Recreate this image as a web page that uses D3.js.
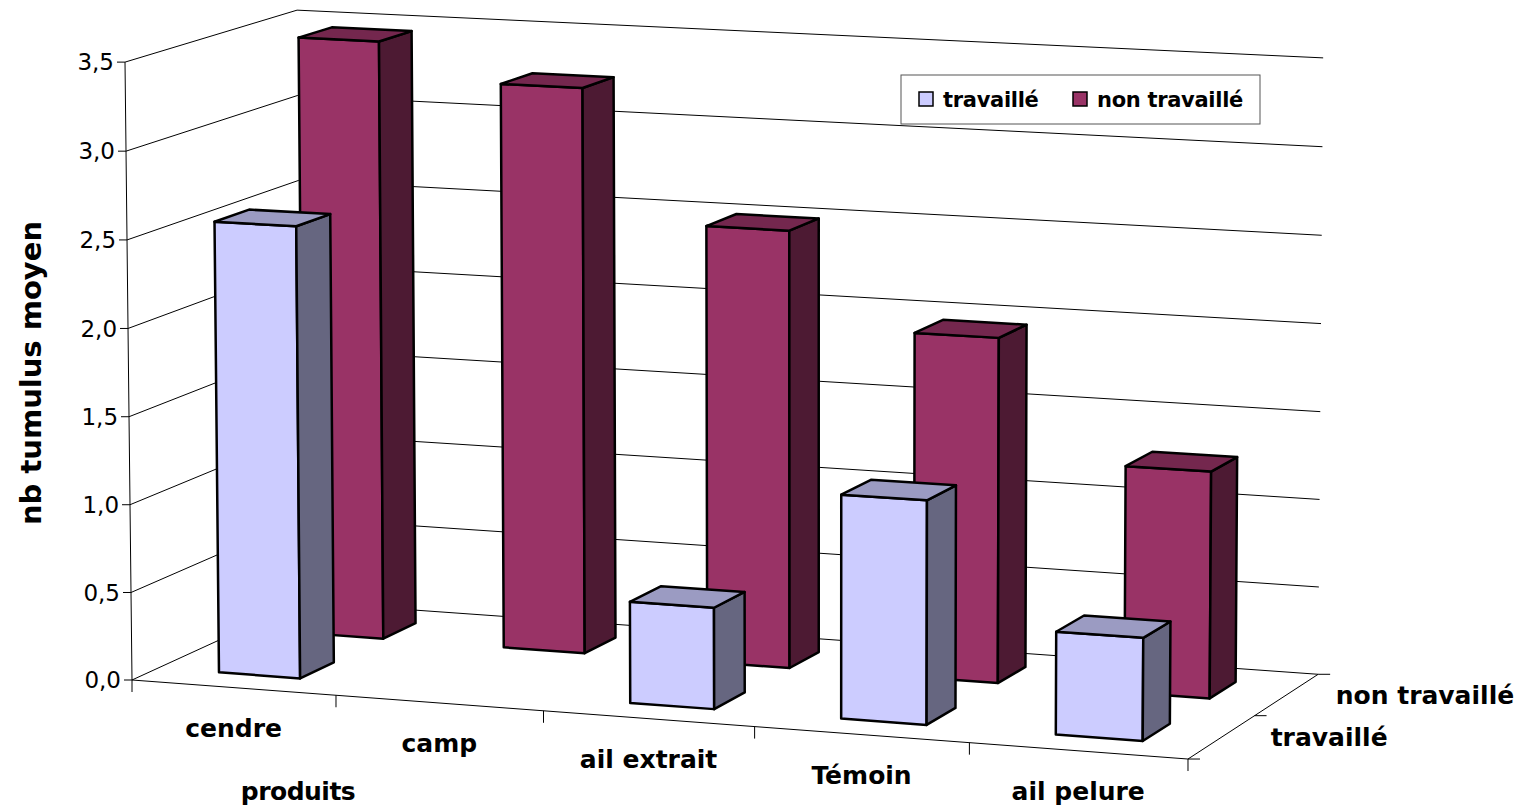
<!DOCTYPE html>
<html lang="fr">
<head>
<meta charset="UTF-8">
<title>nb tumulus moyen par produit</title>
<script src="https://d3js.org/d3.v7.min.js"></script>
<style>
  body { margin: 0; background: #fff; }
  svg { display: block; }
  .grid { stroke: #000; stroke-width: 1; fill: none; }
  .lab { font-family: "DejaVu Sans", sans-serif; fill: #000; }
  .bold { font-weight: bold; }
</style>
</head>
<body>
<div id="chart"></div>
<script>
const categories = ["cendre", "camp", "ail extrait", "Témoin", "ail pelure"];
const series = ["travaillé", "non travaillé"];
const travaille = [2.57, 0, 0.57, 1.25, 0.57];
const nonTravaille = [3.46, 3.25, 2.5, 1.96, 1.28];
const yTicks = [0, 0.5, 1, 1.5, 2, 2.5, 3, 3.5];

const colors = { "travaillé": "#ccccff", "non travaillé": "#993366" };

const W = 1516, H = 809;
const svg = d3.select("#chart").append("svg")
    .attr("width", W).attr("height", H);

// world scales: X = categories along the floor, Y = value (0..1), Z = series depth
const x = d3.scaleBand().domain(categories).range([0, 5]);
const z = d3.scaleBand().domain(series).range([0, 2]);
const y = d3.scaleLinear().domain([0, 3.5]).range([0, 1]);

// perspective projection fitted on the picture
const O = [132, 680], ax = [201.16, 9.39], by = [-8.25, -618.5], cz = [91.8, -25.5];
const al = -0.00845, be = -0.01004, ga = 0.02236;
function P(X, Y, Z) {
    const w = 1 + al * X + be * Y + ga * Z;
    return [(O[0] + ax[0] * X + by[0] * Y + cz[0] * Z) / w,
            (O[1] + ax[1] * X + by[1] * Y + cz[1] * Z) / w];
}
const line = d3.line();
const fmt = d3.formatLocale({ decimal: ",", thousands: " ", grouping: [3], currency: ["", "€"] }).format(".1f");

// walls: gridlines on left wall and back wall
const g = svg.append("g");
yTicks.forEach(t => {
    const yy = y(t);
    g.append("path").attr("class", "grid")
        .attr("d", line([P(0, yy, 0), P(0, yy, 2), P(5, yy, 2)]));
});

// y axis
g.append("path").attr("class", "grid").attr("d", line([P(0, 1, 0), P(0, 0, 0)]));
yTicks.forEach(t => {
    const p = P(0, y(t), 0);
    g.append("line").attr("class", "grid")
        .attr("x1", p[0] - 8).attr("x2", p[0]).attr("y1", p[1]).attr("y2", p[1]);
    g.append("text").attr("class", "lab")
        .attr("x", p[0] - 11).attr("y", p[1]).attr("dy", "0.36em")
        .attr("text-anchor", "end").style("font-size", "23px")
        .text(fmt(t));
});

// x axis (front floor edge)
g.append("path").attr("class", "grid").attr("d", line([P(0, 0, 0), P(5, 0, 0)]));
d3.range(categories.length + 1).forEach(i => {
    const p = P(i, 0, 0);
    g.append("line").attr("class", "grid")
        .attr("x1", p[0]).attr("x2", p[0]).attr("y1", p[1]).attr("y2", p[1] + 12);
});
categories.forEach(c => {
    const p = P(x(c) + x.bandwidth() / 2, 0, 0);
    g.append("text").attr("class", "lab bold")
        .attr("x", p[0]).attr("y", p[1] + 49)
        .attr("text-anchor", "middle").style("font-size", "25px")
        .text(c);
});

// depth axis (right floor edge)
g.append("path").attr("class", "grid").attr("d", line([P(5, 0, 0), P(5, 0, 2)]));
[0, 1, 2].forEach(k => {
    const p = P(5, 0, k);
    g.append("line").attr("class", "grid")
        .attr("x1", p[0]).attr("x2", p[0] + 12).attr("y1", p[1]).attr("y2", p[1]);
});
series.forEach(s => {
    const p = P(5, 0, z(s) + z.bandwidth() / 2);
    g.append("text").attr("class", "lab bold")
        .attr("x", p[0] + 49).attr("y", p[1]).attr("dy", "0.36em")
        .style("font-size", "25px")
        .text(s);
});

// bars: back row first, then front row, left to right
const bars = [];
series.slice().reverse().forEach(s => {
    const vals = s === "travaillé" ? travaille : nonTravaille;
    categories.forEach((c, i) => bars.push({ cat: c, s: s, v: vals[i] }));
});

function shade(col, k) {
    const c = d3.rgb(col);
    return d3.rgb(c.r * k, c.g * k, c.b * k).formatHex();
}

const bg = svg.append("g")
    .attr("stroke", "#000").attr("stroke-width", 2.5).attr("stroke-linejoin", "round");
bars.filter(d => d.v > 0).forEach(d => {
    const x0 = x(d.cat) + x.bandwidth() * 0.3, x1 = x(d.cat) + x.bandwidth() * 0.7;
    const z0 = z(d.s) + z.bandwidth() * 0.3, z1 = z(d.s) + z.bandwidth() * 0.7;
    const h = y(d.v);
    const col = colors[d.s];
    bg.append("path").attr("fill", col)
        .attr("d", line([P(x0, 0, z0), P(x1, 0, z0), P(x1, h, z0), P(x0, h, z0)]) + "Z");
    bg.append("path").attr("fill", shade(col, 0.5))
        .attr("d", line([P(x1, 0, z0), P(x1, 0, z1), P(x1, h, z1), P(x1, h, z0)]) + "Z");
    bg.append("path").attr("fill", shade(col, 0.76))
        .attr("d", line([P(x0, h, z0), P(x1, h, z0), P(x1, h, z1), P(x0, h, z1)]) + "Z");
});

// axis titles
svg.append("text").attr("class", "lab bold")
    .attr("transform", "translate(41,373) rotate(-90)")
    .attr("text-anchor", "middle").style("font-size", "29px")
    .text("nb tumulus moyen");
svg.append("text").attr("class", "lab bold")
    .attr("x", 298).attr("y", 800)
    .attr("text-anchor", "middle").style("font-size", "25px")
    .style("letter-spacing", "-0.5px")
    .text("produits");

// legend
const lg = svg.append("g").attr("transform", "translate(901,75)");
lg.append("rect").attr("width", 359).attr("height", 49)
    .attr("fill", "#fff").attr("stroke", "#555").attr("stroke-width", 1);
const legX = [18, 172];
series.forEach((s, i) => {
    lg.append("rect").attr("x", legX[i]).attr("y", 17).attr("width", 14).attr("height", 14)
        .attr("fill", colors[s]).attr("stroke", "#000").attr("stroke-width", 1.5);
    lg.append("text").attr("class", "lab bold")
        .attr("x", legX[i] + 24).attr("y", 24).attr("dy", "0.36em")
        .style("font-size", "21px").style("letter-spacing", "-0.3px")
        .text(s);
});
</script>
</body>
</html>
